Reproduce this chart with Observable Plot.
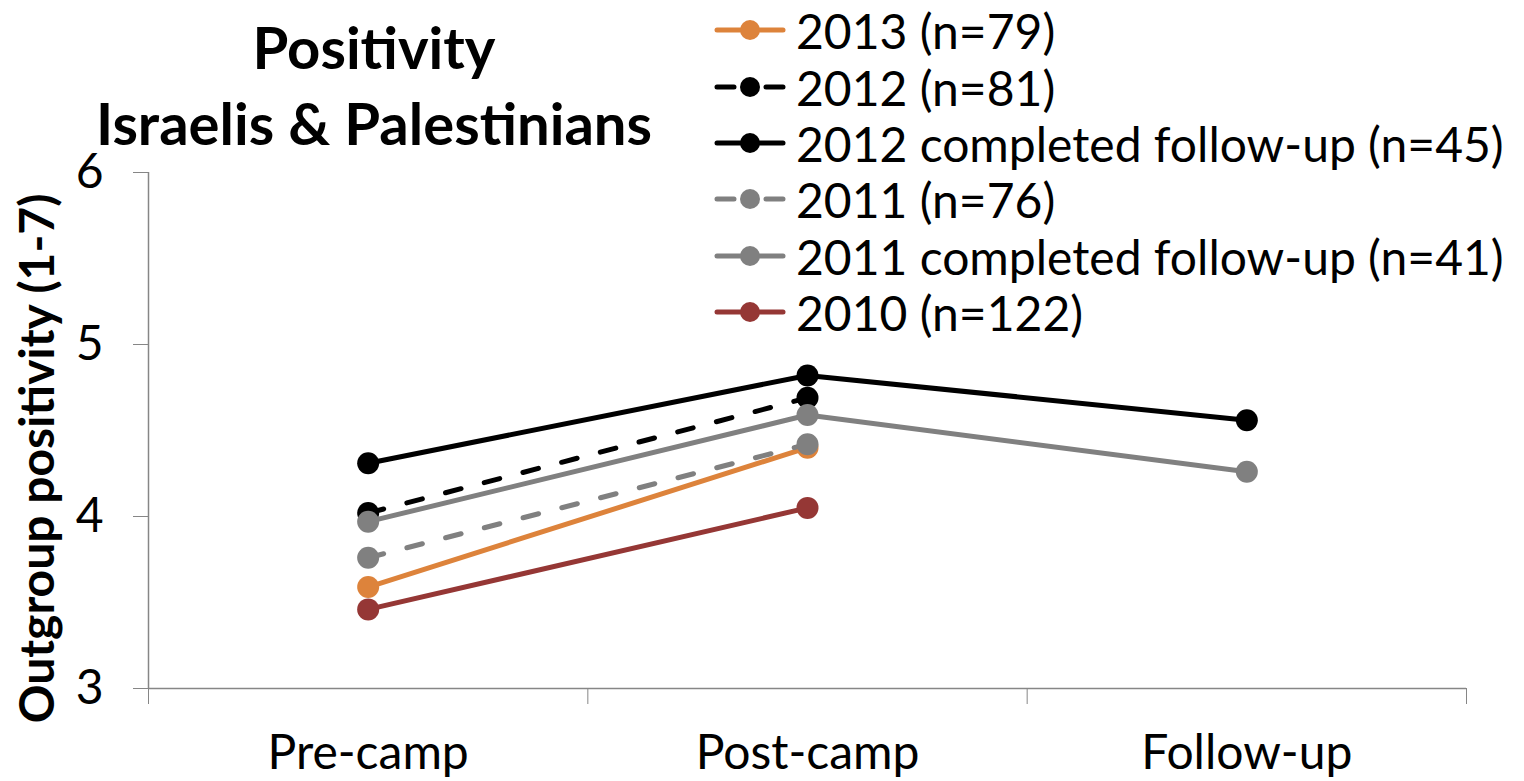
<!DOCTYPE html>
<html>
<head>
<meta charset="utf-8">
<script src="https://cdn.jsdelivr.net/npm/d3@7"></script>
<script src="https://cdn.jsdelivr.net/npm/@observablehq/plot@0.6"></script>
<style>
  html, body { margin: 0; padding: 0; background: #fff; }
  #wrap { position: relative; width: 1524px; height: 781px; font-family: Lato, "Open Sans", sans-serif; color: #000; overflow: hidden; }
  #wrap svg.plot { position: absolute; left: 0; top: 0; }
  .title { position: absolute; left: 74px; width: 600px; text-align: center; font-weight: bold; font-size: 58px; line-height: 0.8; white-space: nowrap; }
  .ylabel { position: absolute; font-weight: bold; font-size: 48px; white-space: nowrap; transform-origin: center center; }
  .legrow { position: absolute; left: 712px; height: 56px; display: flex; align-items: center; font-size: 48px; white-space: nowrap; }
  .legrow svg { margin-right: 8px; }
</style>
</head>
<body>
<div id="wrap"></div>
<script>
// ---- data ----
const stages = ["Pre-camp", "Post-camp", "Follow-up"];
const seriesNames = ["2013 (n=79)", "2012 (n=81)", "2012 completed follow-up (n=45)", "2011 (n=76)", "2011 completed follow-up (n=41)", "2010 (n=122)"];
const v2013 = [3.59, 4.40];
const v2012 = [4.02, 4.69];
const v2012c = [4.31, 4.82, 4.56];
const v2011 = [3.76, 4.42];
const v2011c = [3.97, 4.59, 4.26];
const v2010 = [3.46, 4.05];
const yTicks = [3, 4, 5, 6];

const seriesValues = [v2013, v2012, v2012c, v2011, v2011c, v2010];
const seriesColors = ["#DD833B", "#000000", "#000000", "#808080", "#808080", "#953735"];
const seriesDashed = [false, true, false, true, false, false];

const rows = [];
seriesNames.forEach((name, si) => {
  seriesValues[si].forEach((v, i) => rows.push({series: name, stage: stages[i], idx: i, value: v}));
});

const axisColor = "#868686";
const marks = [
  Plot.ruleX([-0.5], {stroke: axisColor, strokeWidth: 1.5}),
  Plot.ruleY([3], {stroke: axisColor, strokeWidth: 1.5}),
  Plot.axisY({ticks: yTicks, tickSize: 15, tickPadding: 30, fontSize: 48, stroke: axisColor, fill: "#000", label: null, tickFormat: d => String(d)}),
  Plot.axisX({ticks: [-0.5, 0.5, 1.5, 2.5], tickSize: 16, stroke: axisColor, tickFormat: () => "", label: null}),
  Plot.axisX({ticks: [0, 1, 2], tickSize: 0, tickPadding: 46, fontSize: 48, fill: "#000", tickFormat: i => stages[i], label: null})
];
seriesNames.forEach((name, si) => {
  const d = rows.filter(r => r.series === name);
  marks.push(Plot.line(d, {x: "idx", y: "value", stroke: seriesColors[si], strokeWidth: 5,
    strokeDasharray: seriesDashed[si] ? "16,24" : null, strokeLinecap: "round"}));
  marks.push(Plot.dot(d, {x: "idx", y: "value", fill: seriesColors[si], r: 11, stroke: "none"}));
});

const chart = Plot.plot({
  width: 1524, height: 781,
  marginLeft: 148, marginRight: 58, marginTop: 172, marginBottom: 93,
  style: {fontFamily: "Lato, 'Open Sans', sans-serif", background: "white", color: "#000", overflow: "visible"},
  x: {type: "linear", domain: [-0.5, 2.5]},
  y: {type: "linear", domain: [3, 6]},
  marks
});
chart.classList.add("plot");
const wrap = document.getElementById("wrap");
wrap.appendChild(chart);

// title
const t1 = document.createElement("div"); t1.className = "title"; t1.style.top = "24px"; t1.textContent = "Positivity"; wrap.appendChild(t1);
const t2 = document.createElement("div"); t2.className = "title"; t2.style.top = "100px"; t2.textContent = "Israelis & Palestinians"; wrap.appendChild(t2);

// y label
const yl = document.createElement("div"); yl.className = "ylabel"; yl.textContent = "Outgroup positivity (1-7)";
wrap.appendChild(yl);
const w = yl.offsetWidth, h = yl.offsetHeight;
yl.style.left = (36 - w / 2) + "px";
yl.style.top = (458 - h / 2) + "px";
yl.style.transform = "rotate(-90deg)";

// legend
const legCenters = [30, 87, 143, 199, 256, 312];
seriesNames.forEach((name, si) => {
  const row = document.createElement("div");
  row.className = "legrow";
  row.style.top = (legCenters[si] - 28) + "px";
  const ns = "http://www.w3.org/2000/svg";
  const s = document.createElementNS(ns, "svg");
  s.setAttribute("width", 76); s.setAttribute("height", 30);
  const ln = document.createElementNS(ns, "line");
  ln.setAttribute("x1", 5); ln.setAttribute("x2", 71); ln.setAttribute("y1", 15); ln.setAttribute("y2", 15);
  ln.setAttribute("stroke", seriesColors[si]); ln.setAttribute("stroke-width", 5); ln.setAttribute("stroke-linecap", "round");
  if (seriesDashed[si]) ln.setAttribute("stroke-dasharray", "17,32");
  s.appendChild(ln);
  const c = document.createElementNS(ns, "circle");
  c.setAttribute("cx", 38); c.setAttribute("cy", 15); c.setAttribute("r", 10); c.setAttribute("fill", seriesColors[si]);
  s.appendChild(c);
  row.appendChild(s);
  const span = document.createElement("span"); span.textContent = name; row.appendChild(span);
  wrap.appendChild(row);
});
</script>
</body>
</html>
